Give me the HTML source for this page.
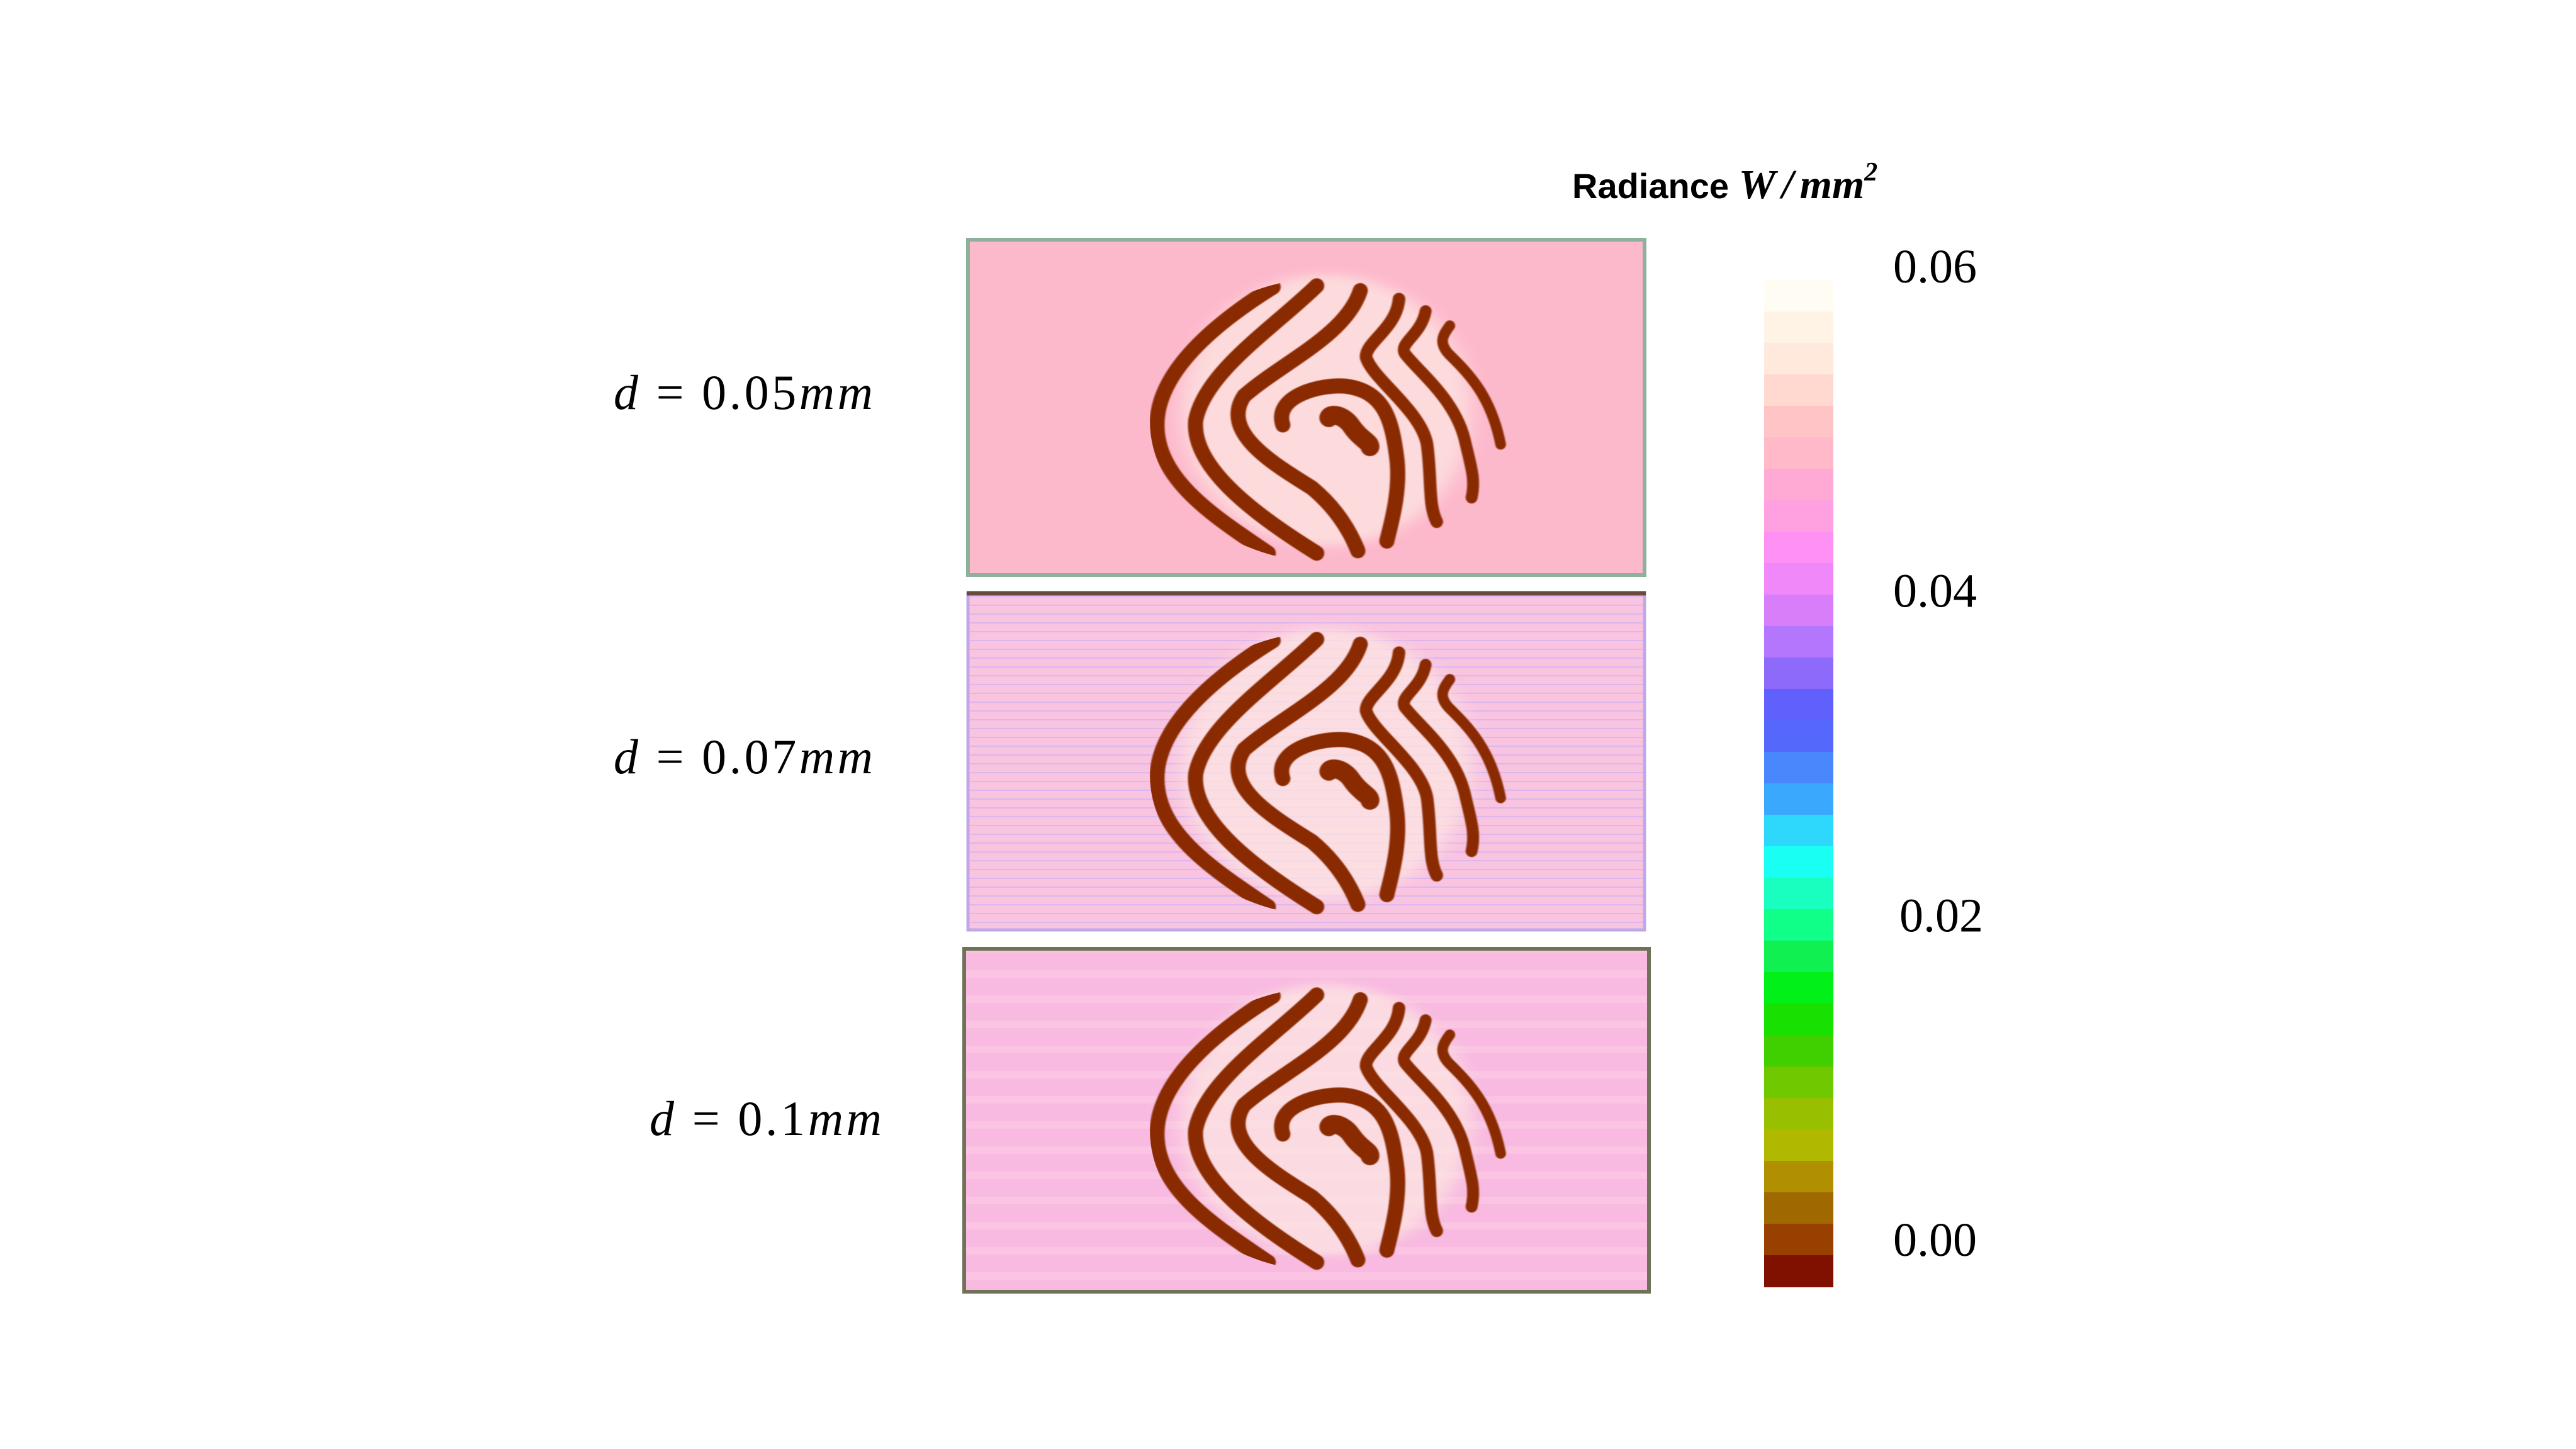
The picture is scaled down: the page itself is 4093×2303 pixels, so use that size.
<!DOCTYPE html>
<html><head><meta charset="utf-8"><style>
html,body{margin:0;padding:0;background:#fff;}
svg{display:block;}
</style></head><body>
<svg id="fig" xmlns="http://www.w3.org/2000/svg" width="4093" height="2303" viewBox="0 0 4093 2303">
<defs>
  <clipPath id="ell"><ellipse cx="800" cy="800" rx="375" ry="590"/></clipPath>
  <filter id="blur" x="-20%" y="-20%" width="140%" height="140%"><feGaussianBlur stdDeviation="20"/></filter>
  <filter id="soft"><feGaussianBlur stdDeviation="1.5"/></filter>
  <pattern id="lines2" width="20" height="14" patternUnits="userSpaceOnUse"><rect width="20" height="14" fill="#f9c4e0"/><rect y="9" width="20" height="2" fill="#dcb6ec"/></pattern>
  <pattern id="lines3" width="20" height="40" patternUnits="userSpaceOnUse"><rect width="20" height="40" fill="#f8bae0"/><rect y="22" width="20" height="12" fill="#fac4e2"/></pattern>
  <g id="finger">
    <g transform="translate(1500,360) scale(0.769,0.3846)">
      <ellipse cx="790" cy="760" rx="300" ry="560" fill="#fde6e2" filter="url(#blur)" opacity="0.75"/>
      <g clip-path="url(#ell)" fill="none" stroke="#8a2a05" stroke-linecap="round" filter="url(#soft)">
        <path vector-effect="non-scaling-stroke" stroke-width="24" d="M680,250 C560,400 440,600 440,820 C440,1050 560,1200 670,1350"/>
        <path vector-effect="non-scaling-stroke" stroke-width="24" d="M770,245 C680,420 540,600 520,800 C510,1000 650,1200 770,1350"/>
        <path vector-effect="non-scaling-stroke" stroke-width="24" d="M860,265 C830,450 700,560 620,700 C570,850 680,980 760,1080 C820,1180 845,1290 855,1340"/>
        <path vector-effect="non-scaling-stroke" stroke-width="24" d="M700,820 C680,700 780,650 830,660 C910,680 925,800 935,950 C945,1100 920,1250 915,1300"/>
        <path vector-effect="non-scaling-stroke" stroke-width="30" d="M795,790 C800,770 825,780 840,820 C860,880 880,890 880,910"/>
        <path vector-effect="non-scaling-stroke" stroke-width="20" d="M940,300 C935,420 870,480 872,540 C885,630 985,760 998,900 C1008,1050 1000,1150 1018,1220"/>
        <path vector-effect="non-scaling-stroke" stroke-width="19" d="M995,350 C985,450 940,480 952,525 C985,610 1060,720 1078,900 C1090,1000 1098,1050 1090,1120"/>
        <path vector-effect="non-scaling-stroke" stroke-width="17" d="M1045,410 C1030,450 1022,480 1042,525 C1085,610 1130,700 1150,900"/>
      </g>
    </g>
  </g>
</defs>

<text x="2498" y="315" font-family="Liberation Sans, sans-serif" font-weight="bold" font-size="56">Radiance <tspan font-family="Liberation Serif, serif" font-style="italic" font-size="66">W</tspan><tspan font-family="Liberation Serif, serif" font-style="italic" font-size="66" dx="10">/</tspan><tspan font-family="Liberation Serif, serif" font-style="italic" font-size="66" dx="10">mm</tspan><tspan font-family="Liberation Serif, serif" font-style="italic" font-size="42" dy="-28">2</tspan></text>

<g>
  <rect x="1538" y="381" width="1075" height="533" fill="#fdb9cc" stroke="#8fb09a" stroke-width="6"/>
  <use href="#finger"/>
</g>
<g>
  <rect x="1538" y="943" width="1075" height="535" fill="url(#lines2)" stroke="#c0a8e8" stroke-width="5"/>
  <line x1="1536" y1="943" x2="2615" y2="943" stroke="#6a4a3a" stroke-width="7"/>
  <use href="#finger" transform="translate(0,562)"/>
</g>
<g>
  <rect x="1532" y="1508" width="1088" height="545" fill="url(#lines3)" stroke="#6f7258" stroke-width="6"/>
  <use href="#finger" transform="translate(0,1127)"/>
</g>

<g font-family="Liberation Serif, serif" font-size="78" letter-spacing="3">
  <text x="975" y="650" textLength="415" lengthAdjust="spacing"><tspan font-style="italic">d</tspan> = 0.05<tspan font-style="italic">mm</tspan></text>
  <text x="975" y="1229" textLength="415" lengthAdjust="spacing"><tspan font-style="italic">d</tspan> = 0.07<tspan font-style="italic">mm</tspan></text>
  <text x="1032" y="1804" textLength="372" lengthAdjust="spacing"><tspan font-style="italic">d</tspan> = 0.1<tspan font-style="italic">mm</tspan></text>
</g>
<g id="cbar"></g>
<g id="cticks"></g>

<script>
const bandColors = ["#fffcf3","#fff3e6","#ffe8dc","#ffd8d0","#ffc4c6","#ffb9c9","#ffaad4","#ffa0e0","#ff90f4","#f088fa","#d87ef8","#b376fc","#8e6afa","#6060fc","#5468fc","#4888fc","#3aa8fc","#2ed8fc","#1afff4","#18ffc0","#10ff88","#10f050","#00f018","#18e000","#40d000","#70c800","#98c000","#b0b800","#b09000","#a06800","#984000","#801000"];
const tickValues = [0.00, 0.02, 0.04, 0.06];
const tickLabels = ["0.00", "0.02", "0.04", "0.06"];

const NS = "http://www.w3.org/2000/svg";
const cbTop = 445, cbBot = 2045, cbX = 2803, cbW = 110;
const vmin = 0, vmax = 0.06;
function yScale(v){ return 1972 - (v - vmin) / (vmax - vmin) * (1972 - 425); }

const cbar = document.getElementById('cbar');
const bh = (cbBot - cbTop) / bandColors.length;
bandColors.forEach((c, i) => {
  const r = document.createElementNS(NS, 'rect');
  
  
  r.setAttribute('x', cbX); r.setAttribute('y', cbTop + i * bh);
  r.setAttribute('width', cbW); r.setAttribute('height', bh + 1);
  r.setAttribute('fill', c);
  cbar.appendChild(r);
});

const ct = document.getElementById('cticks');
tickValues.forEach((v, i) => {
  const t = document.createElementNS(NS, 'text');
  
  
  t.setAttribute('x', i === 1 ? 3018 : 3008);
  t.setAttribute('y', yScale(v) + 24);
  t.setAttribute('font-family', 'Liberation Serif, serif');
  t.setAttribute('font-size', '76');
  t.textContent = tickLabels[i];
  ct.appendChild(t);
});
</script>
</svg>
</body></html>
